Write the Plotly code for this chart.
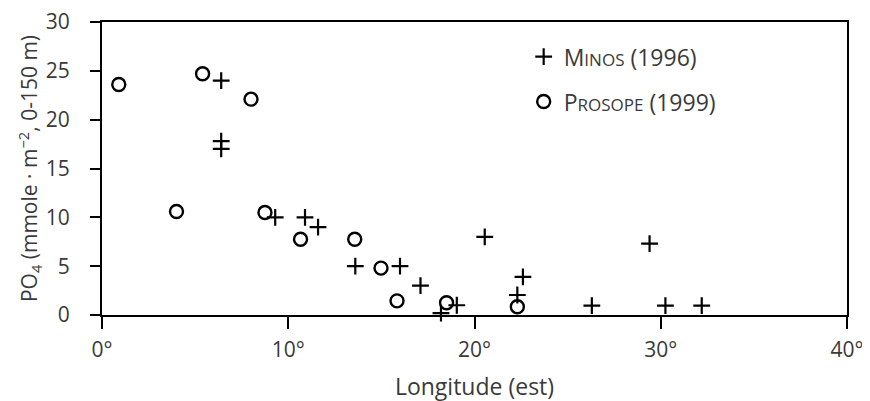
import plotly.graph_objects as go

minos_lon = [6.4, 6.4, 6.4, 9.3, 10.9, 11.6, 13.6, 16.0, 17.1, 18.2, 19.05, 20.55, 22.6, 22.3, 26.3, 29.4, 30.25, 32.2]
minos_po4 = [24.0, 17.8, 17.0, 10.0, 10.0, 9.0, 5.0, 5.0, 3.0, 0.2, 1.0, 8.0, 3.9, 2.05, 0.95, 7.3, 0.95, 0.95]

prosope_lon = [0.9, 4.0, 5.4, 8.0, 8.75, 10.66, 13.57, 14.98, 15.84, 18.5, 22.3]
prosope_po4 = [23.6, 10.6, 24.7, 22.1, 10.5, 7.75, 7.75, 4.8, 1.45, 1.25, 0.85]

x_ticks = [0, 10, 20, 30, 40]
x_tick_labels = ["0°", "10°", "20°", "30°", "40°"]
y_ticks = [0, 5, 10, 15, 20, 25, 30]

FONT = "Open Sans"
TXT = "#3a3a3a"
sc = lambda s: "<span style='font-size:17px'>" + s + "</span>"

fig = go.Figure()
fig.add_trace(go.Scatter(
    x=minos_lon, y=minos_po4, mode="markers",
    name="M" + sc("INOS") + " (1996)", legendgroup="a",
    marker=dict(symbol="cross-thin-open", size=12, line=dict(width=2.2, color="black"), color="black"),
    cliponaxis=False,
))
fig.add_trace(go.Scatter(
    x=prosope_lon, y=prosope_po4, mode="markers",
    name="P" + sc("ROSOPE") + " (1999)", legendgroup="b",
    marker=dict(symbol="circle-open", size=13, line=dict(width=2.4, color="black"), color="black"),
    cliponaxis=False,
))

fig.update_layout(
    width=870, height=401,
    margin=dict(l=94, r=31, t=14, b=94, autoexpand=False),
    paper_bgcolor="white", plot_bgcolor="white",
    font=dict(family=FONT, size=21, color=TXT),
    showlegend=True,
    legend=dict(x=0.566, y=0.955, xanchor="left", yanchor="top",
                bgcolor="rgba(0,0,0,0)", font=dict(size=23, color=TXT),
                tracegroupgap=12, itemwidth=30),
    xaxis=dict(range=[0, 40], tickvals=x_ticks, ticktext=x_tick_labels, automargin=False,
               showgrid=False, zeroline=False, showline=True, linecolor="black",
               linewidth=2, mirror=True, ticks="outside", ticklen=12, tickwidth=2,
               tickcolor="black", tickfont=dict(size=21, color=TXT), ticklabelstandoff=3,
               ticklabeloverflow="allow",
               title=dict(text="Longitude (est)", font=dict(size=23, color=TXT), standoff=17)),
    yaxis=dict(range=[0, 30], tickvals=y_ticks, automargin=False,
               showgrid=False, zeroline=False, showline=True, linecolor="black",
               linewidth=2, mirror=True, ticks="outside", ticklen=10, tickwidth=2,
               tickcolor="black", tickfont=dict(size=21, color=TXT), ticklabelstandoff=16,
               ticklabeloverflow="allow",
               title=dict(text="PO<sub>4</sub> (mmole · m<sup>−2</sup>, 0-150 m)",
                          font=dict(size=21, color=TXT), standoff=2)),
)

fig.write_html("out.html")
